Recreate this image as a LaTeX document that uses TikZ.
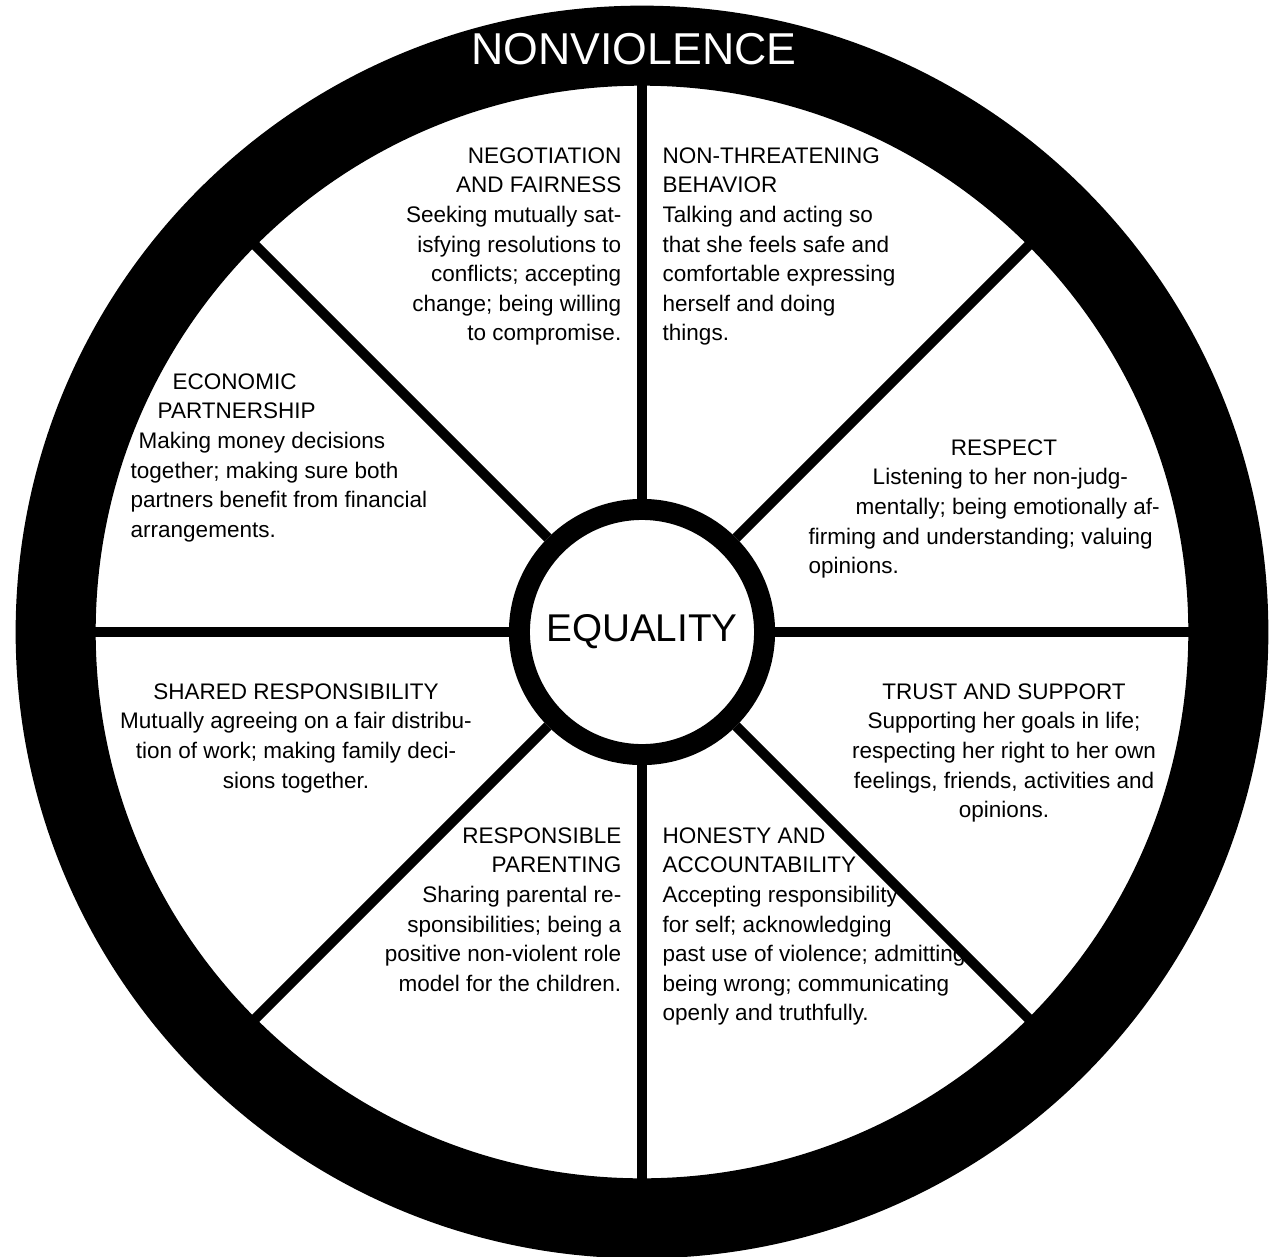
\documentclass[tikz,border=0pt]{standalone}
\usepackage{fontspec}
\setmainfont{Liberation Sans}
\tikzset{
	spoke/.style={line width=2.85pt}, % the eight spokes of the wheel
	hub/.style={circle, draw, line width=5.98pt, minimum size=2.45cm, inner sep=0pt, font=\fontsize{11}{13}\selectfont}, % the centre ring
	blurb/.style={inner sep=0pt, font=\fontsize{6.4}{8.4}\selectfont}, % text in each segment
	rimtext/.style={inner sep=0pt, text=white, font=\fontsize{12.7}{15}\selectfont}, % white text on the rim
}
\begin{document}
\begin{tikzpicture}[x=0.01cm, y=-0.01cm]
	\useasboundingbox (0,0) rectangle (1272,1257);
	\coordinate (c) at (642,632);
	\node[hub] (hub) at (c) {EQUALITY};
	\foreach \a in {0,45,...,315}{
		\coordinate (rim\a) at ([shift={(\a:5.5cm)}]c);
		\draw[spoke] (hub) -- (rim\a);
	}
	\fill[even odd rule] (c) circle (6.26cm) (c) circle (5.46cm);
	\node[rimtext] (rim) at (634,49) {NONVIOLENCE};
	
	\node[blurb, anchor=north east, align=right] (negotiation) at (622,147) {NEGOTIATION\\AND FAIRNESS\\Seeking mutually sat-\\isfying resolutions to\\conflicts; accepting\\change; being willing\\to compromise.};
	\node[blurb, anchor=north west, align=left] (threat) at (662,147) {NON-THREATENING\\BEHAVIOR\\Talking and acting so\\that she feels safe and\\comfortable expressing\\herself and doing\\things.};
	\node[blurb, anchor=north west, align=left] (economic) at (130,373) {\hspace*{0.42cm}ECONOMIC\\\hspace*{0.27cm}PARTNERSHIP\\\hspace*{0.08cm}Making money decisions\\together; making sure both\\partners benefit from financial\\arrangements.};
	\node[blurb, anchor=north west, align=left] (respect) at (808,439) {\hspace*{1.42cm}RESPECT\\\hspace*{0.64cm}Listening to her non-judg-\\\hspace*{0.47cm}mentally; being emotionally af-\\firming and understanding; valuing\\opinions.};
	\node[blurb, anchor=north, align=center] (trust) at (1004,683) {TRUST AND SUPPORT\\Supporting her goals in life;\\respecting her right to her own\\feelings, friends, activities and\\opinions.};
	\node[blurb, anchor=north, align=center] (shared) at (296,683) {SHARED RESPONSIBILITY\\Mutually agreeing on a fair distribu-\\tion of work; making family deci-\\sions together.};
	\node[blurb, anchor=north east, align=right] (parenting) at (622,827) {RESPONSIBLE\\PARENTING\\Sharing parental re-\\sponsibilities; being a\\positive non-violent role\\model for the children.};
	\node[blurb, anchor=north west, align=left] (honesty) at (662,827) {HONESTY AND\\ACCOUNTABILITY\\Accepting responsibility\\for self; acknowledging\\past use of violence; admitting\\being wrong; communicating\\openly and truthfully.};
\end{tikzpicture}
\end{document}
